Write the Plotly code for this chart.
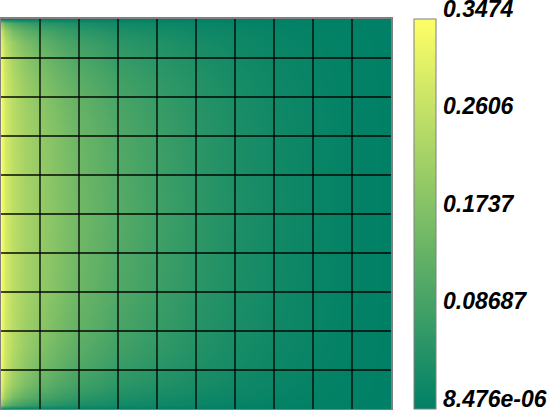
import plotly.graph_objects as go

# node positions of the sampled field (fraction of the square)
x_nodes = [0, 0.01, 0.03, 0.06, 0.1, 0.15, 0.2, 0.3, 0.4, 0.5, 0.6, 0.7, 0.8, 0.9, 1.0]
y_nodes = [0, 0.01, 0.03, 0.06, 0.1, 0.15, 0.2, 0.3, 0.5, 0.7, 0.8, 0.85, 0.9, 0.94, 0.97, 0.99, 1.0]

# field values, one row per y node (bottom to top)
row_00 = [0, 0, 0, 0, 0, 0, 0, 0, 0, 0, 0, 0, 0, 0, 0]
row_01 = [0.190, 0.140, 0.103, 0.080, 0.062, 0.048, 0.037, 0.024, 0.018, 0.013, 0.008, 0.005, 0.003, 0.001, 0]
row_03 = [0.276, 0.213, 0.162, 0.131, 0.103, 0.080, 0.063, 0.041, 0.031, 0.022, 0.015, 0.009, 0.005, 0.002, 0]
row_06 = [0.311, 0.251, 0.206, 0.169, 0.135, 0.106, 0.086, 0.059, 0.045, 0.032, 0.021, 0.013, 0.007, 0.003, 0]
row_10 = [0.328, 0.272, 0.226, 0.192, 0.158, 0.127, 0.104, 0.073, 0.055, 0.039, 0.026, 0.016, 0.009, 0.003, 0]
row_15 = [0.335, 0.280, 0.242, 0.208, 0.176, 0.145, 0.121, 0.087, 0.066, 0.047, 0.031, 0.019, 0.010, 0.004, 0]
row_20 = [0.342, 0.286, 0.249, 0.218, 0.189, 0.158, 0.133, 0.098, 0.074, 0.052, 0.035, 0.022, 0.012, 0.004, 0]
row_30 = [0.345, 0.292, 0.254, 0.227, 0.201, 0.172, 0.147, 0.110, 0.083, 0.059, 0.039, 0.024, 0.013, 0.005, 0]
row_50 = [0.3474, 0.295, 0.257, 0.229, 0.205, 0.177, 0.153, 0.118, 0.089, 0.063, 0.042, 0.026, 0.014, 0.005, 0]

z_rows = [row_00, row_01, row_03, row_06, row_10, row_15, row_20, row_30, row_50,
          row_30, row_20, row_15, row_10, row_06, row_03, row_01, row_00]

# mesh lines (10 x 10 elements)
mesh_lines = [0.1, 0.2, 0.3, 0.4, 0.5, 0.6, 0.7, 0.8, 0.9]

z_min = 8.476e-06
z_max = 0.3474
cbar_vals = [8.476e-06, 0.08687, 0.1737, 0.2606, 0.3474]
cbar_text = ["8.476e-06", "0.08687", "0.1737", "0.2606", "0.3474"]

summer = [[0, "#008066"], [1, "#ffff66"]]

fig = go.Figure()

fig.add_trace(go.Heatmap(
    x=x_nodes, y=y_nodes, z=z_rows,
    zsmooth="best",
    colorscale=summer,
    zmin=z_min, zmax=z_max,
    colorbar=dict(
        x=1.059, xanchor="left", xpad=0,
        y=0.5, yanchor="middle", ypad=0,
        len=1, lenmode="fraction",
        thickness=22,
        outlinewidth=1, outlinecolor="#808080",
        tickvals=cbar_vals, ticks="", showticklabels=False,
    ),
    hoverinfo="skip",
))

# grid of element edges
gx, gy = [], []
for v in mesh_lines:
    gx += [v, v, None, 0, 1, None]
    gy += [0, 1, None, v, v, None]
fig.add_trace(go.Scatter(
    x=gx, y=gy, mode="lines",
    line=dict(color="rgba(0,0,0,0.72)", width=1.8),
    showlegend=False, hoverinfo="skip",
))

# scalar bar labels sit just above their value, VTK style
for v, t in zip(cbar_vals, cbar_text):
    fig.add_annotation(
        x=1.132, xref="paper", xanchor="left",
        y=(v - z_min) / (z_max - z_min), yref="paper", yanchor="middle",
        yshift=10, text=t, showarrow=False, borderpad=0,
        font=dict(family="Liberation Sans", size=23, color="black",
                  weight="bold", style="italic"),
    )

axis_style = dict(
    range=[0, 1], showgrid=False, zeroline=False,
    showticklabels=False, ticks="",
    showline=True, mirror=True, linecolor="#808080", linewidth=1.5,
)
fig.update_xaxes(**axis_style)
fig.update_yaxes(**axis_style)

fig.update_layout(
    width=550, height=410,
    margin=dict(l=1, r=159, t=19, b=1, autoexpand=False),
    paper_bgcolor="white", plot_bgcolor="white",
    showlegend=False,
)

# page body has a default 8px margin; drop it so the figure sits at the corner
fig.write_html("out.html", config={"displayModeBar": False},
               post_script="document.body.style.margin = '0';")
